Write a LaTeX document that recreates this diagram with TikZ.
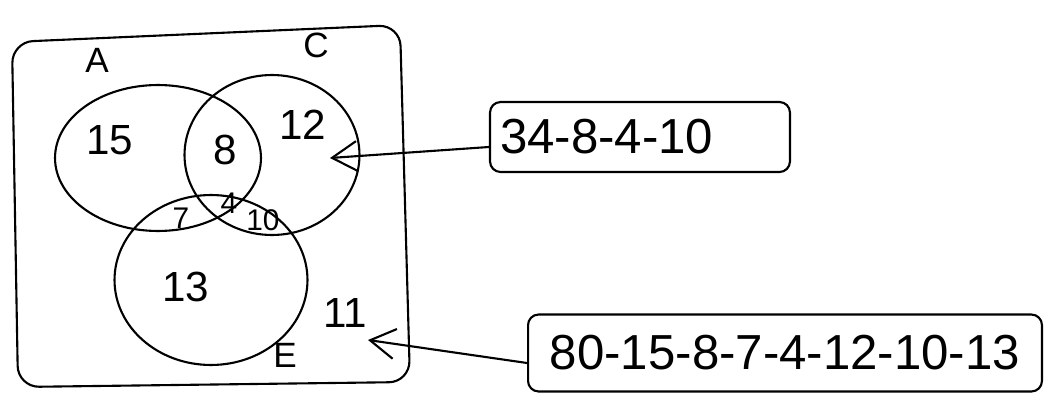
\documentclass[tikz,border=0pt]{standalone}
\usepackage{fontspec}
\setmainfont{Liberation Sans}
\usetikzlibrary{positioning, arrows.meta, shapes.geometric}

\begin{document}
\begin{tikzpicture}[x=0.02cm, y=-0.02cm, line width=1.2pt,
    setc/.style={draw, ellipse, inner sep=0pt},
    lab/.style={font=\fontsize{20}{20}\selectfont},
    num/.style={font=\fontsize{24}{24}\selectfont},
    small/.style={font=\fontsize{17}{17}\selectfont},
    calc/.style={draw, rounded corners=6pt, inner sep=4pt, font=\fontsize{28}{28}\selectfont},
    point/.style={-{Straight Barb[length=5mm, width=6mm]}}]
    \useasboundingbox (0,0) rectangle (1055,399);
    % universe
    \draw[rounded corners=12pt] (12,42) -- (400,25) -- (410,382) -- (18,387) -- cycle;
    % the three sets
    \node[setc, minimum width=4.12cm, minimum height=2.92cm] (A) at (158,158) {};
    \node[setc, minimum width=3.5cm, minimum height=3.2cm] (C) at (272,155) {};
    \node[setc, minimum width=3.86cm, minimum height=3.4cm] (E) at (211,280) {};
    \node[lab] (la) at (97,60) {A};
    \node[lab] (lc) at (316,45) {C};
    \node[lab] (le) at (285,355) {E};
    % region counts
    \node[num] (nA) at (110,140) {15};
    \node[num] (nAC) at (225,150) {8};
    \node[num] (nC) at (303,125) {12};
    \node[small] (nAE) at (181,218) {7};
    \node[small] (nACE) at (229,203) {4};
    \node[small] (nCE) at (263,220) {10};
    \node[num] (nE) at (186,287) {13};
    \node[num] (nOut) at (345,313) {11};
    % working
    \node[calc, minimum width=6cm, minimum height=1.4cm, text width=5.6cm, align=left] (sumC) at (640,137) {34-8-4-10};
    \node[calc, minimum width=10.28cm, minimum height=1.54cm] (sumOut) at (785,353) {80-15-8-7-4-12-10-13};
    \coordinate (pC) at (330,158);
    \coordinate (pOut) at (368,340);
    \draw[point] ([yshift=-0.2cm]sumC.west) -- (pC);
    \draw[point] ([yshift=-0.2cm]sumOut.west) -- (pOut);
\end{tikzpicture}
\end{document}
